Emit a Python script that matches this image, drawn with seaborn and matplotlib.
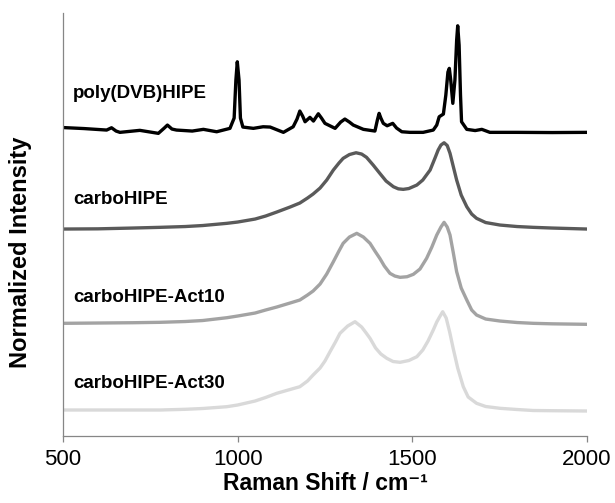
import numpy as np
import pandas as pd
import matplotlib
matplotlib.use('Agg')
import matplotlib.pyplot as plt
import seaborn as sns

# Raman spectra (stacked, arbitrary units)
dvb_shift = [500, 560, 625, 639, 652, 663, 720, 773, 790, 799, 812, 825, 870, 902, 940, 978,
             990, 995, 999, 1004, 1008, 1015, 1045, 1073, 1093, 1131, 1159, 1170, 1178, 1186,
             1193, 1207, 1217, 1231, 1240, 1250, 1279, 1295, 1307, 1320, 1331, 1360, 1393,
             1400, 1405, 1410, 1417, 1428, 1444, 1455, 1470, 1493, 1531, 1560, 1570, 1577,
             1589, 1596, 1602, 1606, 1610, 1616, 1622, 1627, 1630, 1634, 1638, 1641, 1656,
             1680, 1699, 1722, 1800, 1900, 2000]
dvb_int = [308.5, 307.5, 306, 308.3, 305, 303.7, 305.7, 302.7, 308, 311, 307, 306, 305, 306.7,
           304.3, 307.7, 318, 356, 374.3, 356, 318, 309, 307.7, 309.3, 309, 303.7, 309.3, 317,
           325, 320, 314.3, 318.7, 315, 322.3, 318, 312.7, 307.7, 314, 317, 314, 311, 306.7,
           305, 316, 322.7, 318, 312.7, 310.3, 312.7, 308, 304.3, 303.7, 303.7, 306, 311,
           319.3, 322, 341, 364, 367.7, 356, 332.7, 356, 396, 410.3, 391, 341, 314.3, 306.7,
           305.5, 306.7, 303.7, 303.7, 303.5, 303.7]

carbo_shift = [500, 600, 700, 778, 850, 900, 969, 1000, 1050, 1080, 1112, 1150, 1178, 1200,
               1216, 1236, 1255, 1274, 1290, 1302, 1320, 1339, 1355, 1369, 1388, 1407, 1425,
               1446, 1460, 1474, 1490, 1513, 1530, 1551, 1565, 1574, 1582, 1591, 1600, 1608,
               1617, 1627, 1640, 1656, 1670, 1684, 1710, 1751, 1800, 1846, 1900, 2000]
carbo_int = [207, 207.2, 208, 208.7, 209.5, 210.5, 212.7, 214, 217, 220, 224, 229, 233, 238,
             242, 248, 256, 266, 273, 277.7, 281.5, 283.3, 282, 278.7, 271, 262.7, 255, 249.3,
             247.2, 246.7, 247.5, 251, 256, 266, 278, 286, 291, 293.3, 290.5, 282.7, 270, 256,
             241, 229.3, 222, 217.7, 213.5, 211, 209.5, 208.7, 208, 207]

act10_shift = [500, 600, 700, 778, 850, 900, 969, 1000, 1050, 1080, 1112, 1150, 1178, 1200,
               1216, 1236, 1255, 1274, 1290, 1302, 1320, 1341, 1360, 1379, 1393, 1407, 1420,
               1436, 1450, 1465, 1485, 1503, 1522, 1541, 1556, 1570, 1582, 1591, 1600, 1608,
               1617, 1627, 1640, 1656, 1670, 1684, 1710, 1751, 1800, 1846, 1900, 2000]
act10_int = [112.7, 113, 113.3, 113.7, 114.5, 115.5, 118.3, 120, 123, 126, 129, 133, 136, 141,
             145, 152, 162, 174.3, 185, 192.7, 199, 202.7, 199, 192.7, 185, 177.7, 170, 162.7,
             160, 158.7, 159.3, 161.7, 167, 177.7, 189, 201, 209, 213.7, 209, 201, 184, 164.3,
             148, 136, 126, 121, 117, 115, 113.5, 112.7, 112.2, 111.7]

act30_shift = [500, 600, 700, 778, 850, 900, 969, 1000, 1050, 1080, 1112, 1150, 1178, 1200,
               1216, 1236, 1250, 1264, 1280, 1293, 1315, 1336, 1355, 1368, 1379, 1395, 1410,
               1427, 1445, 1465, 1490, 1513, 1530, 1545, 1560, 1570, 1578, 1587, 1597, 1607,
               1617, 1630, 1646, 1660, 1684, 1710, 1751, 1800, 1846, 1900, 2000]
act30_int = [26, 26, 26, 26, 26.7, 27.5, 29.3, 31, 35, 38.5, 42.7, 46.5, 49.3, 55, 61, 68, 75,
             84, 94, 102.7, 110, 114.3, 109, 103, 97.7, 88, 82, 77.7, 74.5, 73.7, 75.5, 79.3,
             86, 95, 106, 114, 119, 124.3, 118, 104, 87.7, 68, 49.3, 39, 32.7, 29.5, 27.7,
             26.5, 25.5, 25.3, 25]

names = ['poly(DVB)HIPE', 'carboHIPE', 'carboHIPE-Act10', 'carboHIPE-Act30']
colors = ['#000000', '#5a5a5a', '#a3a3a3', '#d9d9d9']
label_y = [338.3, 232, 134.3, 47.7]

sns.set_style('white')
plt.rcParams['font.family'] = ['Liberation Sans', 'DejaVu Sans']
plt.rcParams['text.color'] = 'black'
plt.rcParams['axes.labelcolor'] = 'black'
plt.rcParams['xtick.color'] = 'black'

fig = plt.figure(figsize=(6.15, 5.03), dpi=100)
ax = fig.add_axes([0.1024, 0.1332, 0.852, 0.8408])

spectra = [(dvb_shift, dvb_int), (carbo_shift, carbo_int),
           (act10_shift, act10_int), (act30_shift, act30_int)]
for (sx, sy), name, c, ly in zip(spectra, names, colors, label_y):
    df = pd.DataFrame({'shift': sx, 'intensity': sy})
    sns.lineplot(data=df, x='shift', y='intensity', color=c, lw=2.4, ax=ax,
                 legend=False, sort=False, solid_joinstyle='round')
    ax.text(528, ly, name, fontsize=13.5, fontweight='bold', va='baseline', ha='left',
            color='black')

ax.set_xlim(500, 2000)
ax.set_ylim(0, 423)
ax.set_xticks([500, 1000, 1500, 2000])
ax.set_yticks([])
for s in ['top', 'right']:
    ax.spines[s].set_visible(False)
for s in ['left', 'bottom']:
    ax.spines[s].set_color('#868686')
    ax.spines[s].set_linewidth(0.9)
ax.tick_params(axis='x', direction='out', length=4, width=0.9, color='#868686',
               labelcolor='black', labelsize=16, pad=5, bottom=True)
ax.set_xlabel('Raman Shift / cm⁻¹', fontsize=16.5, fontweight='bold', labelpad=2)
ax.set_ylabel('Normalized Intensity', fontsize=17, fontweight='bold')
ax.yaxis.label.set_va('center')
ax.yaxis.set_label_coords(-0.081, 0.434)

fig.savefig('out.png', dpi=100)
